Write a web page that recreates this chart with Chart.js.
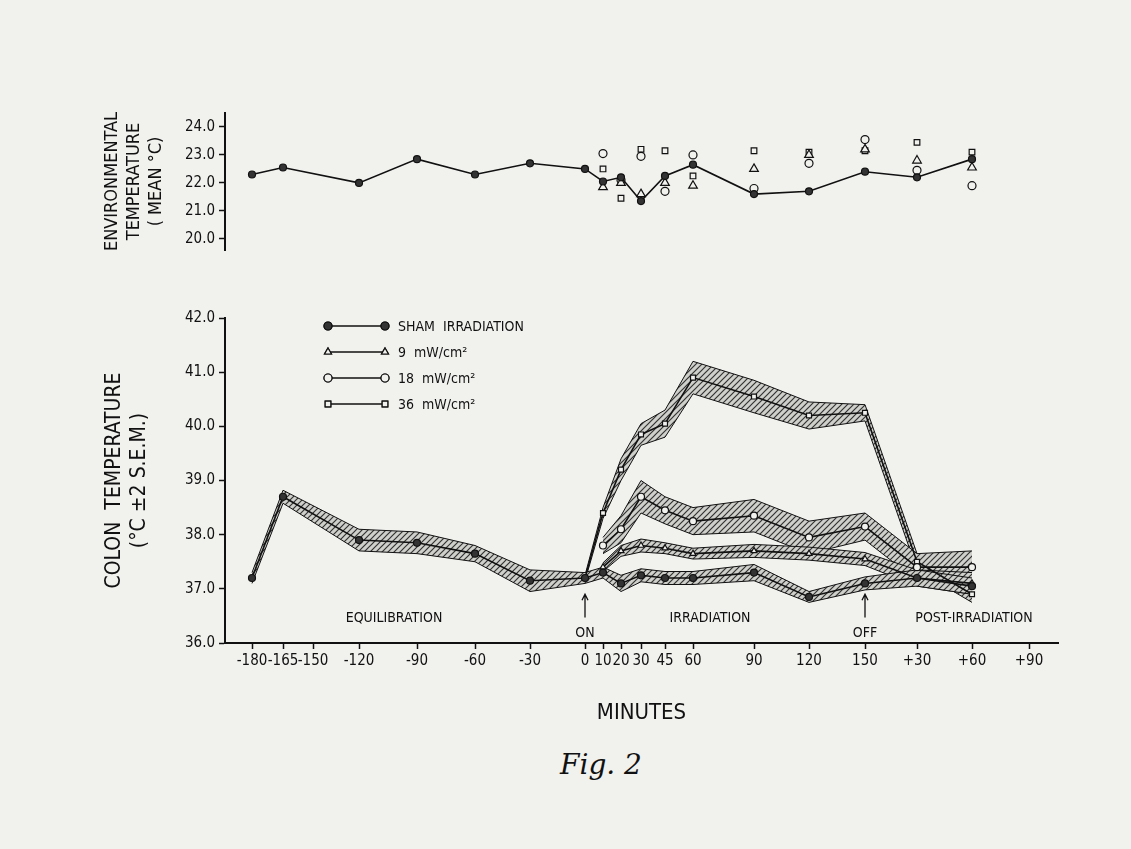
<!DOCTYPE html>
<html><head><meta charset="utf-8">
<script src="https://cdn.jsdelivr.net/npm/chart.js@4.4.1/dist/chart.umd.min.js"></script>
<style>
body{margin:0;background:#f1f1ee;width:1131px;height:849px;position:relative;overflow:hidden;font-family:"DejaVu Sans Condensed","DejaVu Sans",sans-serif;color:#111}
canvas{position:absolute}
.t{position:absolute;font-size:14px;white-space:nowrap}
</style></head><body>
<canvas id="envChart" style="left:100px;top:100px;width:980px;height:163px"></canvas>
<canvas id="colonChart" style="left:100px;top:300px;width:980px;height:430px"></canvas>
<div class="t" style="left:560px;top:748px;font:italic 28px 'DejaVu Serif',serif">Fig. 2</div>
<script>
// X AXIS (minutes labels and their spacing along the drawn axis)
const xTickLabels = ["-180","-165","-150","-120","-90","-60","-30","0","10","20","30","45","60","90","120","150","+30","+60","+90"];
const xTickPos = [0,31,61,107,165,223,278,333,351,369,389,413,441,502,557,613,665,720,777];

const fullMinutes = ["-180","-165","-120","-90","-60","-30","0","10","20","30","45","60","90","120","150","+30","+60"];
const irrMinutes = ["10","20","30","45","60","90","120","150","+30","+60"];
const sqMinutes = ["0","10","20","30","45","60","90","120","150","+30","+60"];

// ENVIRONMENTAL TEMPERATURE
const envSham = [22.3,22.55,22.0,22.85,22.3,22.7,22.5,22.05,22.2,21.35,22.25,22.65,21.6,21.7,22.4,22.2,22.85];
const env9 = [21.85,22.0,21.6,22.0,21.9,22.5,23.0,23.2,22.8,22.55];
const env18 = [23.05,22.1,22.95,21.7,23.0,21.8,22.7,23.55,22.45,21.9];
const env36 = [22.5,21.45,23.2,23.15,22.25,23.15,23.1,23.15,23.45,23.1];

// COLON TEMPERATURE
const colSham = [37.2,38.7,37.9,37.85,37.65,37.15,37.2,37.3,37.1,37.25,37.2,37.2,37.3,36.85,37.1,37.2,37.05];
const colShamSem = [0.1,0.12,0.2,0.2,0.15,0.2,0.1,0.1,0.15,0.12,0.12,0.12,0.15,0.1,0.12,0.15,0.15];
const col9 = [37.4,37.7,37.8,37.75,37.65,37.7,37.65,37.55,37.2,37.1];
const col9Sem = [0.08,0.1,0.12,0.1,0.1,0.12,0.12,0.12,0.15,0.2];
const col18 = [37.8,38.1,38.7,38.45,38.25,38.35,37.95,38.15,37.4,37.4];
const col18Sem = [0.15,0.25,0.3,0.25,0.25,0.3,0.3,0.25,0.25,0.3];
const col36 = [37.2,38.4,39.2,39.85,40.05,40.9,40.55,40.2,40.25,37.5,36.9];
const col36Sem = [0.05,0.1,0.2,0.2,0.25,0.3,0.3,0.25,0.15,0.15,0.15];

const pos = m => xTickPos[xTickLabels.indexOf(m)];
const pts = (mins, vals) => mins.map((m, i) => ({x: pos(m), y: vals[i]}));
const font = {family: "'DejaVu Sans Condensed','DejaVu Sans',sans-serif", size: 15};
Chart.defaults.color = "#111";

// hatched band pattern
const pc = document.createElement("canvas");
pc.width = 6; pc.height = 6;
const px = pc.getContext("2d");
px.fillStyle = "#cfcfcb"; px.fillRect(0,0,6,6);
px.strokeStyle = "#333"; px.lineWidth = 1.2;
px.beginPath(); px.moveTo(0,6); px.lineTo(6,0); px.moveTo(-1,1); px.lineTo(1,-1); px.moveTo(5,7); px.lineTo(7,5); px.stroke();
const hatch = document.getElementById("colonChart").getContext("2d").createPattern(pc, "repeat");

function xScale(show) {
  return {
    type: "linear", min: -27, max: 806,
    afterBuildTicks: s => { s.ticks = xTickPos.map(v => ({value: v})); },
    ticks: {display: show, autoSkip: false, maxRotation: 0, font: font,
      callback: (v) => xTickLabels[xTickPos.indexOf(v)]},
    grid: {display: show, drawOnChartArea: false, color: "#111", tickLength: 6, tickWidth: 1.5},
    border: {display: show, color: "#111", width: 2},
    title: {display: show, text: "MINUTES", font: {family: font.family, size: 22}, padding: {top: 14}},
    afterFit: s => { s.height = show ? 87 : 0; }
  };
}

function marker(shape, filled) {
  return {pointStyle: shape, pointRadius: 3.5, pointBorderColor: "#111", pointBorderWidth: 1.2,
    pointBackgroundColor: filled ? "#333" : "#f1f1ee", borderColor: "#111", borderWidth: 1.6, order: 0};
}

// ENV CHART
new Chart(document.getElementById("envChart"), {
  type: "scatter",
  data: {datasets: [
    {data: pts(fullMinutes, envSham), showLine: true, ...marker("circle", true)},
    {data: pts(irrMinutes, env9), ...marker("triangle", false), pointRadius: 5},
    {data: pts(irrMinutes, env18), ...marker("circle", false), pointRadius: 4},
    {data: pts(irrMinutes, env36), ...marker("rect", false), pointRadius: 4}
  ]},
  options: {
    responsive: false, animation: false,
    layout: {padding: {top: 10, right: 22, bottom: 0}},
    plugins: {legend: {display: false}, tooltip: {enabled: false}},
    scales: {
      x: xScale(false),
      y: {min: 19.6, max: 24.5,
        afterBuildTicks: s => { s.ticks = [20,21,22,23,24].map(v => ({value: v})); },
        ticks: {font: font, callback: v => v.toFixed(1), padding: 4},
        grid: {drawOnChartArea: false, color: "#111", tickLength: 6, tickWidth: 1.5},
        border: {color: "#111", width: 2},
        title: {display: true, text: ["ENVIRONMENTAL", "TEMPERATURE", "( MEAN °C)"], font: {family: font.family, size: 18}, padding: 2},
        afterFit: s => { s.width = 125; }}
    }
  }
});

// COLON CHART
function bandSets(mins, vals, sem, shape, filled) {
  return [
    {data: pts(mins, vals.map((v, i) => v + sem[i])), pointRadius: 0, borderColor: "#111", borderWidth: 1, fill: false, order: 1},
    {data: pts(mins, vals.map((v, i) => v - sem[i])), pointRadius: 0, borderColor: "#111", borderWidth: 1, fill: "-1", backgroundColor: hatch, order: 1},
    {data: pts(mins, vals), ...marker(shape, filled)}
  ];
}

const labelsPlugin = {
  id: "labels",
  afterDraw(c) {
    const {ctx, scales: {x, y}} = c;
    ctx.save();
    ctx.fillStyle = "#111";
    ctx.font = "14px " + font.family;
    ctx.textAlign = "center";
    ctx.fillText("EQUILIBRATION", x.getPixelForValue(142), y.getPixelForValue(36.38));
    ctx.fillText("IRRADIATION", x.getPixelForValue(458), y.getPixelForValue(36.38));
    ctx.fillText("POST-IRRADIATION", x.getPixelForValue(722), y.getPixelForValue(36.38));
    ctx.fillText("ON", x.getPixelForValue(333), y.getPixelForValue(36.12));
    ctx.fillText("OFF", x.getPixelForValue(613), y.getPixelForValue(36.12));
    ctx.lineWidth = 1.3; ctx.strokeStyle = "#111";
    [333, 613].forEach(v => {
      const px0 = x.getPixelForValue(v), top = y.getPixelForValue(36.9), bot = y.getPixelForValue(36.47);
      ctx.beginPath(); ctx.moveTo(px0, bot); ctx.lineTo(px0, top);
      ctx.moveTo(px0 - 3, top + 6); ctx.lineTo(px0, top); ctx.lineTo(px0 + 3, top + 6); ctx.stroke();
    });
    // legend
    const entries = [["circle", true, "SHAM  IRRADIATION"], ["triangle", false, "9  mW/cm²"], ["circle", false, "18  mW/cm²"], ["rect", false, "36  mW/cm²"]];
    ctx.textAlign = "left"; ctx.font = "14px " + font.family;
    entries.forEach((e, i) => {
      const ly = 326 - 300 + i * 26, lx0 = 228, lx1 = 285;
      ctx.beginPath(); ctx.moveTo(lx0, ly); ctx.lineTo(lx1, ly); ctx.lineWidth = 1.6; ctx.stroke();
      [lx0, lx1].forEach(lx => {
        ctx.fillStyle = e[1] ? "#333" : "#f1f1ee"; ctx.lineWidth = 1.2;
        Chart.helpers.drawPoint(ctx, {pointStyle: e[0], radius: 4, borderWidth: 1.2}, lx, ly);
        ctx.fill(); ctx.stroke();
      });
      ctx.fillStyle = "#111";
      ctx.fillText(e[2], 298, ly + 5);
    });
    // axis break marks
    ctx.lineWidth = 1.5;
    const bx = x.left;
    [0, 8].forEach(d => { ctx.beginPath(); ctx.moveTo(bx - 8, -22 + d); ctx.lineTo(bx + 8, -34 + d); ctx.stroke(); });
    ctx.restore();
  }
};

new Chart(document.getElementById("colonChart"), {
  type: "scatter",
  data: {datasets: [
    ...bandSets(fullMinutes, colSham, colShamSem, "circle", true),
    ...bandSets(irrMinutes, col9, col9Sem, "triangle", false),
    ...bandSets(irrMinutes, col18, col18Sem, "circle", false),
    ...bandSets(sqMinutes, col36, col36Sem, "rect", false)
  ].map(d => ({...d, showLine: true}))},
  options: {
    responsive: false, animation: false, clip: false,
    layout: {padding: {top: 18, right: 22}},
    plugins: {legend: {display: false}, tooltip: {enabled: false}},
    scales: {
      x: xScale(true),
      y: {min: 36, max: 42,
        afterBuildTicks: s => { s.ticks = [36,37,38,39,40,41,42].map(v => ({value: v})); },
        ticks: {font: font, callback: v => v.toFixed(1), padding: 4},
        grid: {drawOnChartArea: false, color: "#111", tickLength: 6, tickWidth: 1.5},
        border: {color: "#111", width: 2},
        title: {display: true, text: ["COLON  TEMPERATURE", "(°C ±2 S.E.M.)"], font: {family: font.family, size: 21}, padding: 2},
        afterFit: s => { s.width = 125; }}
    }
  },
  plugins: [labelsPlugin]
});
</script>
</body></html>
